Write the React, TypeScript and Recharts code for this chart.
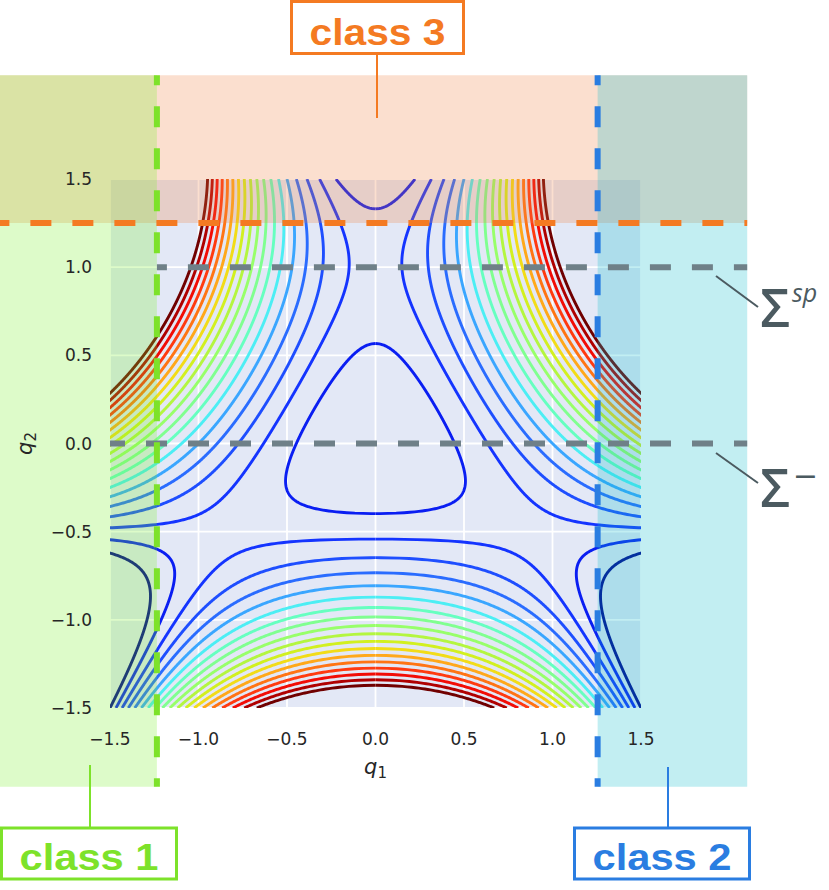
import React from 'react';
import {
  ComposedChart,
  Line,
  XAxis,
  YAxis,
  CartesianGrid,
  ReferenceArea,
  ReferenceLine,
  Label,
} from 'recharts';

// contour levels of the potential V(q1, q2)
const ENERGY_LEVELS = [0, 0.1, 0.2, 0.3, 0.4, 0.5, 0.6, 0.7, 0.8, 0.9, 1.0, 1.1, 1.2, 1.3, 1.4, 1.5, 1.6, 1.7, 1.8];
const AXIS_TICKS = [-1.5, -1.0, -0.5, 0.0, 0.5, 1.0, 1.5];
const AXIS_DOMAIN: [number, number] = [-1.5, 1.5];

// class boundaries (data units)
const CLASS1_MAX_Q1 = -1.235;
const CLASS2_MIN_Q1 = 1.255;
const CLASS3_MIN_Q2 = 1.25;
const SIGMA_SP_Q2 = 1.0;
const SIGMA_MINUS_Q2 = 0.0;
// extent of the shaded class bands (data units)
const BAND_Q1: [number, number] = [-2.125, 2.1];
const BAND_Q2: [number, number] = [-1.946, 2.088];

// line colour per contour level (jet-like, low -> high)
const LEVEL_COLORS = [
  '#00008F', '#0A1EF2', '#1434FF', '#1E4EFF', '#2A6CFF', '#3AA6FF', '#4CEEF4',
  '#66FFC0', '#80FF90', '#98FF6A', '#B4F640', '#D2F020', '#F2DC18', '#FFA81A',
  '#FF7414', '#FF3A10', '#F20C06', '#B00000', '#700000',
];

const GREEN = '#7DE22A';
const ORANGE = '#F47A22';
const BLUE = '#2A7DE1';
const GRAY = '#6F8088';
const SIGMA_COLOR = '#4B5A60';

type Pt = { x: number; y: number };

// iso-lines of V = (q1^2 + q2^2)/2 + q1^2 q2 - q2^3/3, solved for q1 as a function of q2
function contourBranches(E: number): Pt[][] {
  const f = (y: number) => E - (y * y) / 2 + (y * y * y) / 3;
  const xsq = (y: number) => f(y) / (0.5 + y);
  const valid = (y: number) => Math.abs(0.5 + y) > 1e-9 && xsq(y) >= 0;
  const root = (a: number, b: number) => {
    let lo = a;
    let hi = b;
    for (let k = 0; k < 50; k++) {
      const m = (lo + hi) / 2;
      if (Math.sign(f(m)) === Math.sign(f(lo))) lo = m;
      else hi = m;
    }
    return (lo + hi) / 2;
  };
  const N = 1200;
  const segs: number[][] = [];
  let cur: number[] | null = null;
  let prev = NaN;
  for (let i = 0; i <= N; i++) {
    const y = -1.5 + (3 * i) / N;
    const ok = valid(y);
    if (ok && !cur) {
      cur = [];
      if (i > 0 && (0.5 + prev) * (0.5 + y) > 0) cur.push(root(prev, y));
    }
    if (!ok && cur) {
      if ((0.5 + prev) * (0.5 + y) > 0) cur.push(root(prev, y));
      segs.push(cur);
      cur = null;
    }
    if (ok && cur) cur.push(y);
    prev = y;
  }
  if (cur) segs.push(cur);

  const out: Pt[][] = [];
  segs.forEach((ys) => {
    const right = ys
      .map((y) => ({ x: Math.sqrt(Math.max(0, xsq(y))), y }))
      .filter((p) => p.x <= 2.5);
    if (right.length > 1) {
      out.push(right);
      out.push(right.map((p) => ({ x: -p.x, y: p.y })));
    }
  });
  return out;
}

const CONTOURS = ENERGY_LEVELS.flatMap((E, li) =>
  contourBranches(E).map((pts, bi) => ({ key: `c${li}-${bi}`, pts, color: LEVEL_COLORS[li] }))
);

const fmt = (v: number) => v.toFixed(1).replace('-', '\u2212');

const Q1Label = (props: any) => {
  const vb = props.viewBox;
  return (
    <text x={vb.x + vb.width / 2} y={vb.y + 66} textAnchor="middle" fontFamily="DejaVu Sans" fontSize={21} fill="#262626">
      <tspan fontStyle="italic">q</tspan>
      <tspan fontSize={15} dy={4}>1</tspan>
    </text>
  );
};

const Q2Label = (props: any) => {
  const vb = props.viewBox;
  const x = vb.x - 18;
  const y = vb.y + vb.height / 2;
  return (
    <text x={x} y={y} transform={`rotate(-90, ${x}, ${y})`} textAnchor="middle" fontFamily="DejaVu Sans" fontSize={21} fill="#262626">
      <tspan fontStyle="italic">q</tspan>
      <tspan fontSize={15} dy={4}>2</tspan>
    </text>
  );
};

const ClassBox = ({ x, y, w, h, color, text }: { x: number; y: number; w: number; h: number; color: string; text: string }) => (
  <g>
    <rect x={x} y={y} width={w} height={h} fill="#fff" stroke={color} strokeWidth={3} />
    <text
      x={x + w / 2}
      y={y + h - 9}
      textAnchor="middle"
      fontFamily="Liberation Sans, Arial, sans-serif"
      fontWeight="bold"
      fontSize={36}
      fill={color}
      textLength={w - 36}
      lengthAdjust="spacingAndGlyphs"
    >
      {text}
    </text>
  </g>
);

const dashed = { strokeWidth: 6, strokeDasharray: '21 21', ifOverflow: 'visible' as const };

export default function App() {
  return (
    <div style={{ position: 'absolute', left: 0, top: 0, width: 829, height: 890, background: '#fff' }}>
      <ComposedChart width={829} height={890} margin={{ top: 179, right: 188, bottom: 152, left: 50 }}>
        <CartesianGrid fill="#E3E8F6" stroke="#fff" strokeWidth={1.8} />
        <XAxis
          dataKey="x"
          type="number"
          domain={AXIS_DOMAIN}
          allowDataOverflow
          ticks={AXIS_TICKS}
          tickFormatter={fmt}
          axisLine={false}
          tickLine={false}
          tickSize={0}
          tickMargin={25}
          height={30}
          tick={{ fontFamily: 'DejaVu Sans', fontSize: 17, fill: '#262626' }}
        >
          <Label content={Q1Label} />
        </XAxis>
        <YAxis
          type="number"
          domain={AXIS_DOMAIN}
          allowDataOverflow
          ticks={AXIS_TICKS}
          tickFormatter={fmt}
          axisLine={false}
          tickLine={false}
          tickSize={0}
          tickMargin={18}
          width={60}
          tick={{ fontFamily: 'DejaVu Sans', fontSize: 17, fill: '#262626' }}
        >
          <Label content={Q2Label} />
        </YAxis>

        {CONTOURS.map((c) => (
          <Line
            key={c.key}
            data={c.pts}
            dataKey="y"
            type="linear"
            stroke={c.color}
            strokeWidth={2.9}
            dot={false}
            activeDot={false}
            isAnimationActive={false}
          />
        ))}

        {/* class regions */}
        <ReferenceArea x1={BAND_Q1[0]} x2={BAND_Q1[1]} y1={CLASS3_MIN_Q2} y2={BAND_Q2[1]} fill="#F08040" fillOpacity={0.25} ifOverflow="visible" zIndex={450} />
        <ReferenceArea x1={BAND_Q1[0]} x2={CLASS1_MAX_Q1} y1={BAND_Q2[0]} y2={BAND_Q2[1]} fill="#78F028" fillOpacity={0.25} ifOverflow="visible" zIndex={451} />
        <ReferenceArea x1={CLASS2_MIN_Q1} x2={BAND_Q1[1]} y1={BAND_Q2[0]} y2={BAND_Q2[1]} fill="#0BBBCB" fillOpacity={0.25} ifOverflow="visible" zIndex={452} />

        {/* Poincare sections */}
        <ReferenceLine
          segment={[{ x: CLASS1_MAX_Q1, y: SIGMA_SP_Q2 }, { x: BAND_Q1[1], y: SIGMA_SP_Q2 }]}
          stroke={GRAY}
          strokeDashoffset={11}
          zIndex={460}
          {...dashed}
        />
        <ReferenceLine
          segment={[{ x: AXIS_DOMAIN[0], y: SIGMA_MINUS_Q2 }, { x: BAND_Q1[1], y: SIGMA_MINUS_Q2 }]}
          stroke={GRAY}
          strokeDashoffset={6}
          zIndex={460}
          {...dashed}
        />
        {/* class boundaries */}
        <ReferenceLine
          segment={[{ x: BAND_Q1[0], y: CLASS3_MIN_Q2 }, { x: BAND_Q1[1], y: CLASS3_MIN_Q2 }]}
          stroke={ORANGE}
          strokeDashoffset={11}
          zIndex={461}
          {...dashed}
        />
        <ReferenceLine
          segment={[{ x: CLASS1_MAX_Q1, y: BAND_Q2[1] }, { x: CLASS1_MAX_Q1, y: BAND_Q2[0] }]}
          stroke={GREEN}
          strokeDashoffset={11}
          zIndex={462}
          {...dashed}
        />
        <ReferenceLine
          segment={[{ x: CLASS2_MIN_Q1, y: BAND_Q2[1] }, { x: CLASS2_MIN_Q1, y: BAND_Q2[0] }]}
          stroke={BLUE}
          strokeDashoffset={11}
          zIndex={462}
          {...dashed}
        />
      </ComposedChart>

      <svg width={829} height={890} style={{ position: 'absolute', left: 0, top: 0, pointerEvents: 'none' }}>
        {/* class labels with leaders */}
        <line x1={377} y1={55} x2={377} y2={118} stroke={ORANGE} strokeWidth={2} />
        <ClassBox x={291.5} y={1.5} w={172} h={52} color={ORANGE} text="class 3" />
        <line x1={90} y1={765} x2={90} y2={828} stroke={GREEN} strokeWidth={2} />
        <ClassBox x={1.5} y={828} w={175} h={51} color={GREEN} text="class 1" />
        <line x1={668} y1={767} x2={668} y2={828} stroke={BLUE} strokeWidth={2} />
        <ClassBox x={574.5} y={828} w={175} h={51} color={BLUE} text="class 2" />

        {/* section labels */}
        <line x1={716} y1={276} x2={758} y2={307} stroke={SIGMA_COLOR} strokeWidth={2} />
        <text x={760} y={327} fontFamily="Open Sans" fontWeight={600} fontSize={52} fill={SIGMA_COLOR}>Σ</text>
        <text x={792} y={302} fontFamily="Open Sans" fontStyle="italic" fontSize={25} fill={SIGMA_COLOR}>sp</text>
        <line x1={716} y1={453} x2={758} y2={483} stroke={SIGMA_COLOR} strokeWidth={2} />
        <text x={760} y={507} fontFamily="Open Sans" fontWeight={600} fontSize={52} fill={SIGMA_COLOR}>Σ</text>
        <text x={794} y={491} fontFamily="Open Sans" fontSize={40} fill={SIGMA_COLOR}>−</text>
      </svg>
    </div>
  );
}
